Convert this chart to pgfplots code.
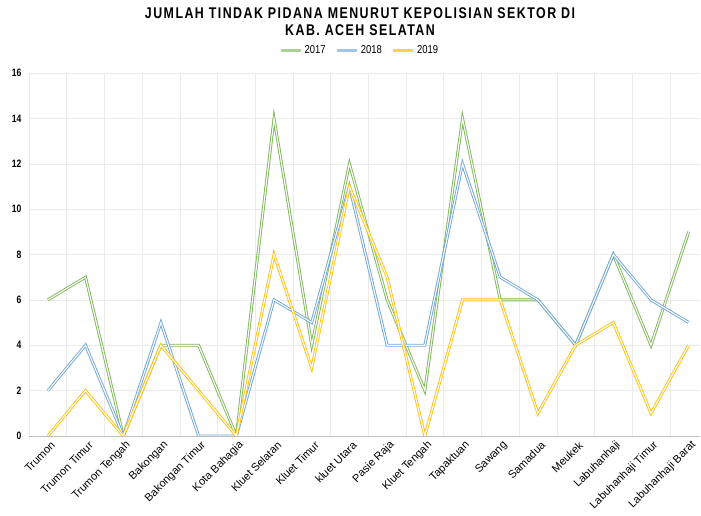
\documentclass[border=0pt]{standalone}
\usepackage{fontspec}
\setmainfont{Liberation Sans}[FakeStretch=0.82]
\newfontfamily\titlefont{Liberation Sans}[FakeStretch=0.8, LetterSpace=9.5]
\newfontfamily\tickfont{Liberation Sans}[FakeStretch=0.8]
\newfontfamily\labfont{Liberation Sans}
\usepackage{pgfplots}
\pgfplotsset{compat=1.18}
\definecolor{c17}{HTML}{7DB657}
\definecolor{c18}{HTML}{6EA6DA}
\definecolor{c19}{HTML}{FFC20E}
\begin{document}
\begin{tikzpicture}[x=1pt,y=1pt]
\path[use as bounding box] (0,0) rectangle (701,516);
\node[anchor=base, font=\titlefont\bfseries\fontsize{15.5}{16}\selectfont] at (360,497.7) {JUMLAH TINDAK PIDANA MENURUT KEPOLISIAN SEKTOR DI};
\node[anchor=base, font=\titlefont\bfseries\fontsize{15.5}{16}\selectfont] at (360,480.3) {KAB. ACEH SELATAN};
\begin{axis}[
  at={(29pt,80pt)}, anchor=south west,
  scale only axis, width=671pt, height=363pt,
  xmin=-0.5, xmax=17.3, ymin=0, ymax=16,
  ytick={0,2,...,16},
  xtick={0,...,17},
  xticklabels={Trumon, Trumon Timur, Trumon Tengah, Bakongan, Bakongan Timur, Kota Bahagia, Kluet Selatan, Kluet Timur, kluet Utara, Pasie Raja, Kluet Tengah, Tapaktuan, Sawang, Samadua, Meukek, Labuhanhaji, Labuhanhaji Timur, Labuhanhaji Barat},
  minor xtick={-0.5,0.5,...,16.5},
  xminorgrids, ymajorgrids,
  major grid style={draw=black!8},
  minor grid style={draw=black!8},
  tick style={draw=none},
  axis x line*=bottom, axis y line*=left,
  x axis line style={draw=black!25, -},
  y axis line style={draw=none},
  /pgf/number format/assume math mode=true,
  yticklabel style={font=\tickfont\bfseries\fontsize{10.7}{11}\selectfont, xshift=-4pt},
  xticklabel style={font=\labfont\fontsize{11}{11}\selectfont, rotate=45, anchor=east, xshift=2pt, yshift=-9pt},
  legend style={at={(0.493,1.063)}, anchor=center, draw=none, fill=none,
    legend columns=3, font=\fontsize{11.5}{11.5}\selectfont,
    /tikz/every even column/.append style={column sep=8pt},
    inner sep=0pt},
  legend image code/.code={\draw[#1] (0pt,0pt) -- (20pt,0pt);},
  every axis plot/.append style={double=white, line width=0.9pt, double distance=1.1pt, line join=miter},
]
\addlegendimage{draw=c17!65, line width=3.2pt, double=none}
\addlegendimage{draw=c18!65, line width=3.2pt, double=none}
\addlegendimage{draw=c19!75, line width=3.2pt, double=none}
\addplot[draw=c17, mark=none, forget plot] coordinates {
 (0,6) (1,7) (2,0) (3,4) (4,4) (5,0) (6,14) (7,4) (8,12) (9,6) (10,2) (11,14) (12,6) (13,6) (14,4) (15,8) (16,4) (17,9)};
\addplot[draw=c18, mark=none, forget plot] coordinates {
 (0,2) (1,4) (2,0) (3,5) (4,0) (5,0) (6,6) (7,5) (8,11) (9,4) (10,4) (11,12) (12,7) (13,6) (14,4) (15,8) (16,6) (17,5)};
\addplot[draw=c19, mark=none, forget plot] coordinates {
 (0,0) (1,2) (2,0) (3,4) (4,2) (5,0) (6,8) (7,3) (8,11) (9,7) (10,0) (11,6) (12,6) (13,1) (14,4) (15,5) (16,1) (17,4)};
\legend{2017,2018,2019}
\end{axis}
\end{tikzpicture}
\end{document}
